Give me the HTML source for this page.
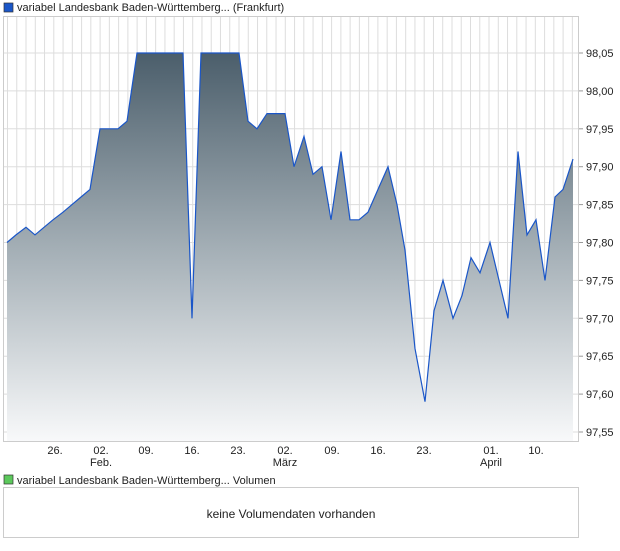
<!DOCTYPE html>
<html><head><meta charset="utf-8"><style>
body{margin:0;background:#fff;font-family:"Liberation Sans",sans-serif;}
svg text{font-family:"Liberation Sans",sans-serif;font-size:11px;fill:#222;}
</style></head><body>
<svg id="s" width="620" height="546" xmlns="http://www.w3.org/2000/svg">
<defs><linearGradient id="g" x1="0" y1="53" x2="0" y2="441" gradientUnits="userSpaceOnUse">
<stop offset="0" stop-color="#4b5e6b"/><stop offset="0.5" stop-color="#a3aeb5"/><stop offset="1" stop-color="#f8f9fa"/></linearGradient></defs>
<g id="grid"></g>
<rect x="3.5" y="16.5" width="575" height="425" fill="none" stroke="#ccc"/>
<path id="area" fill="url(#g)"/>
<path id="line" fill="none" stroke="#1a56c8" stroke-width="1.2"/>
<g id="lab"></g>
<rect x="4" y="3" width="9" height="9" fill="#1a56c8" stroke="#333" stroke-width="0.7"/>
<text x="17" y="11">variabel Landesbank Baden-Württemberg... (Frankfurt)</text>
<rect x="4" y="475" width="9" height="9" fill="#5cc95c" stroke="#333" stroke-width="0.7"/>
<text x="17" y="484">variabel Landesbank Baden-Württemberg... Volumen</text>
<rect x="3.5" y="487.5" width="575" height="50" fill="none" stroke="#ccc"/>
<text x="291" y="518" text-anchor="middle" style="font-size:12px">keine Volumendaten vorhanden</text>
</svg>
<script>
const Y=v=>53+(98.05-v)/0.05*37.9;
let g='',l='';
for(let x=7.5;x<578;x+=9.26) g+=`<line x1="${x}" y1="17" x2="${x}" y2="441" stroke="#ddd"/>`;
for(let i=0;i<11;i++){const v=98.05-i*0.05,y=Y(v);g+=`<line x1="4" y1="${y}" x2="578" y2="${y}" stroke="#ddd"/><line x1="578" y1="${y}" x2="583" y2="${y}" stroke="#999"/>`;
l+=`<text x="586" y="${y+4}">${v.toFixed(2).replace('.',',')}</text>`;}
[[55,'26.'],[101,'02.','Feb.'],[146,'09.'],[192,'16.'],[238,'23.'],[285,'02.','März'],[332,'09.'],[378,'16.'],[424,'23.'],[491,'01.','April'],[536,'10.']].forEach(t=>{
l+=`<text x="${t[0]}" y="454" text-anchor="middle">${t[1]}</text>`;if(t[2])l+=`<text x="${t[0]}" y="466" text-anchor="middle">${t[2]}</text>`;});
document.getElementById('grid').innerHTML=g;document.getElementById('lab').innerHTML=l;
const d=[[7,97.80],[16,97.81],[26,97.82],[35,97.81],[44,97.82],[53,97.83],[63,97.84],[72,97.85],[81,97.86],[90,97.87],[100,97.95],[109,97.95],[118,97.95],[127,97.96],[137,98.05],[146,98.05],[155,98.05],[164,98.05],[183,98.05],[192,97.70],[201,98.05],[239,98.05],[248,97.96],[257,97.95],[267,97.97],[276,97.97],[285,97.97],[294,97.90],[304,97.94],[313,97.89],[322,97.90],[331,97.83],[341,97.92],[350,97.83],[359,97.83],[368,97.84],[378,97.87],[388,97.90],[397,97.85],[405,97.79],[415,97.66],[425,97.59],[434,97.71],[443,97.75],[453,97.70],[462,97.73],[471,97.78],[480,97.76],[490,97.80],[499,97.75],[508,97.70],[518,97.92],[527,97.81],[536,97.83],[545,97.75],[555,97.86],[563,97.87],[573,97.91]];
const p=d.map((q,i)=>(i?'L':'M')+q[0]+','+Y(q[1]).toFixed(1)).join('');
document.getElementById('line').setAttribute('d',p);
document.getElementById('area').setAttribute('d',p+'L573,441L7,441Z');
</script>
</body></html>
